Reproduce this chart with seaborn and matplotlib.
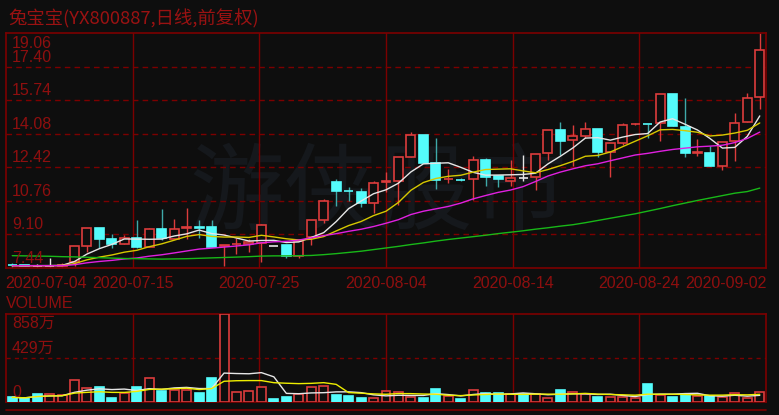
import numpy as np
import pandas as pd
import matplotlib
matplotlib.use('Agg')
import matplotlib.pyplot as plt
import seaborn as sns

title = '兔宝宝(YX800887,日线,前复权)'
date_labels = ['2020-07-04', '2020-07-15', '2020-07-25', '2020-08-04',
               '2020-08-14', '2020-08-24', '2020-09-02']
price_ticks = [19.06, 17.40, 15.74, 14.08, 12.42, 10.76, 9.10, 7.44]
vol_ticks = [858, 429, 0]
vol_tick_labels = ['858万', '429万', '0']

opens = [7.60, 7.57, 7.55, 7.56, 7.55, 7.72, 8.53, 9.41, 8.86, 8.61,
         8.94, 8.50, 9.37, 8.86, 9.44, 9.46, 9.46, 8.54, 8.61, 8.64,
         8.66, 8.54, 8.58, 8.03, 8.96, 9.82, 11.67, 11.27, 11.19, 10.65,
         11.70, 11.72, 12.95, 14.03, 12.63, 11.82, 11.81, 11.83, 12.79, 12.01,
         11.74, 11.88, 11.93, 13.15, 14.24, 13.75, 13.98, 14.31, 13.20, 13.62,
         14.55, 14.57, 14.61, 16.05, 14.41, 13.14, 13.15, 12.46, 13.70, 14.64,
         15.90]
highs = [7.70, 7.60, 7.62, 7.92, 7.70, 8.53, 9.41, 9.41, 9.11, 9.08,
         9.82, 9.40, 10.36, 9.87, 10.40, 9.82, 9.82, 8.60, 8.91, 8.88,
         9.60, 8.54, 8.58, 8.79, 9.82, 10.86, 11.83, 11.44, 11.39, 11.72,
         12.21, 12.91, 14.18, 14.03, 13.87, 12.33, 11.88, 12.99, 12.87, 12.01,
         12.76, 13.04, 13.09, 14.24, 14.64, 14.53, 14.64, 14.31, 13.62, 14.61,
         14.60, 14.58, 16.05, 16.05, 15.85, 13.82, 13.45, 13.67, 15.11, 16.10,
         19.06]
lows = [7.44, 7.53, 7.50, 7.50, 7.47, 7.54, 8.25, 8.42, 8.42, 8.61,
        8.42, 8.50, 8.83, 8.86, 8.86, 8.94, 8.50, 7.54, 8.13, 8.25,
        7.75, 8.54, 7.92, 7.92, 8.58, 9.65, 10.51, 10.73, 10.45, 10.18,
        11.20, 10.56, 12.95, 12.63, 11.35, 11.64, 11.75, 10.81, 11.50, 11.44,
        11.47, 11.74, 11.30, 12.79, 13.04, 12.49, 13.87, 12.93, 11.93, 13.53,
        14.52, 13.87, 13.70, 14.44, 12.95, 12.99, 12.46, 12.30, 12.71, 14.64,
        15.32]
closes = [7.58, 7.56, 7.55, 7.56, 7.60, 8.53, 9.41, 8.89, 8.61, 8.94,
          8.50, 9.36, 8.94, 9.37, 9.47, 9.44, 8.50, 8.57, 8.64, 8.72,
          9.57, 8.54, 8.03, 8.79, 9.82, 10.76, 11.27, 11.24, 10.65, 11.64,
          11.73, 12.91, 14.03, 12.63, 11.80, 11.84, 11.79, 12.79, 11.93, 11.83,
          11.90, 11.88, 13.09, 14.24, 13.73, 13.95, 14.31, 13.20, 13.62, 14.49,
          14.58, 14.55, 16.05, 14.44, 13.12, 13.16, 12.46, 13.67, 14.61, 15.85,
          18.21]
# volume in units of 万
volumes = [43, 33, 75, 75, 65, 212, 137, 141, 39, 88,
           141, 229, 102, 114, 114, 85, 229, 858, 92, 102,
           141, 23, 49, 75, 141, 153, 62, 52, 36, 33,
           102, 92, 43, 36, 121, 56, 26, 114, 82, 82,
           75, 75, 75, 33, 111, 92, 75, 43, 46, 49,
           39, 173, 65, 43, 78, 52, 52, 46, 88, 33,
           92]
# closes before the visible window (flat level at the chart's left edge)
earlier_closes = [7.55, 7.55, 7.55, 7.55, 7.55, 7.55, 7.55, 7.55, 7.55, 7.55,
                  7.55, 7.55, 7.55, 7.55, 7.55, 7.55, 7.55, 7.55, 7.55]
# MA60 (needs history beyond the window)
ma60_line = [8.05, 8.04, 8.03, 8.02, 8.00, 7.99, 7.97, 7.95, 7.93, 7.91,
             7.90, 7.89, 7.88, 7.89, 7.90, 7.92, 7.94, 7.96, 7.98, 8.00,
             8.03, 8.04, 8.04, 8.05, 8.06, 8.10, 8.15, 8.21, 8.27, 8.35,
             8.43, 8.51, 8.60, 8.68, 8.77, 8.85, 8.92, 8.99, 9.06, 9.14,
             9.21, 9.28, 9.36, 9.43, 9.51, 9.58, 9.68, 9.79, 9.90, 10.01,
             10.12, 10.25, 10.38, 10.52, 10.65, 10.78, 10.90, 11.02, 11.14, 11.22,
             11.39]

BG = '#0e0e0e'
FRAME = '#7c0000'
TXT = '#8e0f0f'
RED = '#dc3c3c'
CYAN = '#54fcfc'
TEAL = '#3fa9a9'
WHITE = '#e6e6e6'

sns.set_style('dark', rc={'axes.facecolor': BG, 'figure.facecolor': BG})
plt.rcParams['font.family'] = ['Liberation Sans', 'Noto Sans CJK SC', 'DejaVu Sans']

W, H = 779, 415
fig = plt.figure(figsize=(W / 100, H / 100), dpi=100, facecolor=BG)


def fx(px):
    return px / W


def fy(py):
    return 1 - py / H


L, R = 6, 766
ax = fig.add_axes([fx(L), fy(268), (R - L) / W, (268 - 33) / H])
axv = fig.add_axes([fx(L), fy(401.7), (R - L) / W, (401.7 - 314) / H])

df = pd.DataFrame({'i': np.arange(len(closes)), 'open': opens, 'high': highs,
                   'low': lows, 'close': closes, 'vol': volumes})
allc = pd.Series(earlier_closes + closes)
n_pre = len(earlier_closes)
df['ma5'] = allc.rolling(5).mean().values[n_pre:]
df['ma10'] = allc.rolling(10).mean().values[n_pre:]
df['ma20'] = allc.rolling(20).mean().values[n_pre:]
df['ma60'] = ma60_line
df['vma5'] = df['vol'].rolling(5, min_periods=1).mean()
df['vma10'] = df['vol'].rolling(10, min_periods=1).mean()

n = len(df)
xmin, xmax = -0.5, n - 0.5
bw = 0.72

for a in (ax, axv):
    a.set_facecolor(BG)
    a.set_xlim(xmin, xmax)
    a.set_xticks([])
    a.set_yticks([])
    a.grid(False)
    for s in a.spines.values():
        s.set_color(FRAME)
        s.set_linewidth(1.2)
    for k in range(1, 6):
        a.axvline(xmin + k * (xmax - xmin) / 6, color=FRAME, lw=1.0, zorder=1)

ax.set_ylim(7.44, 19.06)
for p in price_ticks[1:-1]:
    ax.axhline(p, color=FRAME, lw=1.0, ls=(0, (4, 3)), zorder=1)
axv.set_ylim(0, 858)
axv.axhline(429, color=FRAME, lw=1.0, ls=(0, (3, 3)), zorder=1)

# watermark
ax.text(0.49, 0.31, '游侠股市', transform=ax.transAxes, fontsize=68,
        family=['Noto Sans CJK SC'], color='#15181c', ha='center', va='center',
        zorder=0)

# candles
prev_close = None
for r in df.itertuples():
    if r.close > r.open:
        ec, fc, wc = RED, BG, RED
    elif r.close < r.open:
        ec, fc, wc = CYAN, CYAN, TEAL
    else:
        ec, fc, wc = WHITE, WHITE, WHITE
    ax.vlines(r.i, r.low, r.high, color=wc, lw=1.0, zorder=2)
    if r.close == r.open:
        ax.hlines(r.close, r.i - bw / 2, r.i + bw / 2, color=WHITE, lw=1.2, zorder=3)
    else:
        lo = min(r.open, r.close)
        hgt = max(abs(r.close - r.open), 0.02)
        ax.bar(r.i, hgt, bottom=lo, width=bw, facecolor=fc, edgecolor=ec,
               linewidth=1.2, zorder=3)
    # volume
    if r.close > r.open or (r.close == r.open and prev_close is not None and r.close > prev_close):
        vec, vfc = RED, BG
    else:
        vec, vfc = CYAN, CYAN
    axv.bar(r.i, r.vol, width=bw, facecolor=vfc, edgecolor=vec, linewidth=1.2, zorder=3)
    prev_close = r.close

sns.lineplot(data=df, x='i', y='ma5', ax=ax, color=WHITE, lw=1.0, zorder=4)
sns.lineplot(data=df, x='i', y='ma10', ax=ax, color='#d6c800', lw=1.0, zorder=4)
sns.lineplot(data=df, x='i', y='ma20', ax=ax, color='#e020e0', lw=1.0, zorder=4)
sns.lineplot(data=df, x='i', y='ma60', ax=ax, color='#18b818', lw=1.0, zorder=4)
sns.lineplot(data=df, x='i', y='vma5', ax=axv, color=WHITE, lw=1.0, zorder=4)
sns.lineplot(data=df, x='i', y='vma10', ax=axv, color='#eeee00', lw=1.0, zorder=4)
for a in (ax, axv):
    a.set_xlabel('')
    a.set_ylabel('')
    a.set_xlim(xmin, xmax)
ax.set_ylim(7.44, 19.06)
axv.set_ylim(0, 858)

# price labels
for p in price_ticks:
    if p == price_ticks[0]:
        ax.annotate(f'{p:.2f}', (0, p), xycoords=('axes fraction', 'data'),
                    xytext=(6, -3), textcoords='offset pixels', ha='left', va='top',
                    color=TXT, fontsize=11.5, zorder=6)
    else:
        ax.annotate(f'{p:.2f}', (0, p), xycoords=('axes fraction', 'data'),
                    xytext=(6, 2), textcoords='offset pixels', ha='left', va='bottom',
                    color=TXT, fontsize=11.5, zorder=6)
for v, lab in zip(vol_ticks, vol_tick_labels):
    if v == vol_ticks[0]:
        axv.annotate(lab, (0, v), xycoords=('axes fraction', 'data'),
                     xytext=(6, -2), textcoords='offset pixels', ha='left', va='top',
                     color=TXT, fontsize=11.5, zorder=6)
    else:
        axv.annotate(lab, (0, v), xycoords=('axes fraction', 'data'),
                     xytext=(6, 2), textcoords='offset pixels', ha='left', va='bottom',
                     color=TXT, fontsize=11.5, zorder=6)

# date labels
for k, lab in enumerate(date_labels):
    xp = L + k * (R - L) / 6
    ha = 'center'
    if k == 0:
        ha = 'left'
        xp = L - 1
    elif k == len(date_labels) - 1:
        ha = 'right'
        xp = R + 1
    fig.text(fx(xp), fy(283), lab, ha=ha, va='center', color=TXT, fontsize=11.5)

fig.text(fx(8), fy(19), title, ha='left', va='center', color='#9a1212',
         fontsize=13.2, family=['Noto Sans CJK SC', 'DejaVu Sans'])
fig.text(fx(6), fy(303), 'VOLUME', ha='left', va='center', color=TXT, fontsize=11.5)

# next panel edge at the bottom
fig.add_artist(plt.Line2D([fx(L), fx(R)], [fy(410), fy(410)], color=FRAME, lw=1.2))

fig.savefig('out.png', dpi=100, facecolor=BG)
